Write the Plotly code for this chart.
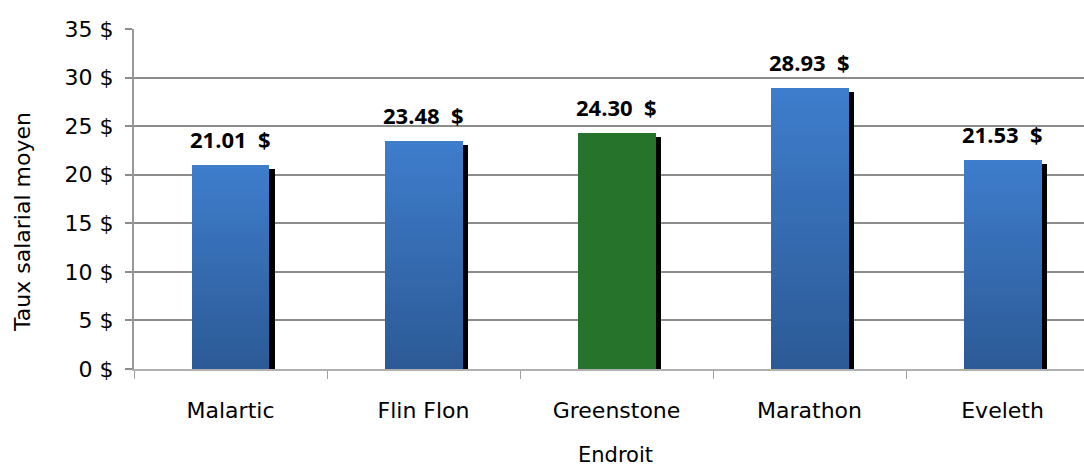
import plotly.graph_objects as go

categories = ["Malartic", "Flin Flon", "Greenstone", "Marathon", "Eveleth"]
values = [21.01, 23.48, 24.30, 28.93, 21.53]
labels = ["21.01\u00a0\u00a0$", "23.48\u00a0\u00a0$", "24.30\u00a0\u00a0$", "28.93\u00a0\u00a0$", "21.53\u00a0\u00a0$"]
highlight = "Greenstone"
y_ticks = [0, 5, 10, 15, 20, 25, 30, 35]
y_ticktext = ["0 $", "5 $", "10 $", "15 $", "20 $", "25 $", "30 $", "35 $"]

W, H = 1084, 466
ML, MT, MB = 134, 29, 97
BAR_W = 0.404
N_SEG = 40

top_rgb = (62, 125, 204)
bot_rgb = (44, 90, 150)
green = "rgb(38,116,44)"
FONT = "DejaVu Sans"

fig = go.Figure()

# shadow
fig.add_trace(go.Bar(
    x=categories, y=[v - 0.4 for v in values], width=BAR_W, offset=-BAR_W / 2 + 0.026,
    marker=dict(color="black", line=dict(width=0)), hoverinfo="skip", showlegend=False))

# gradient bars built from stacked segments
for k in range(N_SEG):
    t = (k + 0.5) / N_SEG
    r = round(bot_rgb[0] + (top_rgb[0] - bot_rgb[0]) * t)
    g = round(bot_rgb[1] + (top_rgb[1] - bot_rgb[1]) * t)
    b = round(bot_rgb[2] + (top_rgb[2] - bot_rgb[2]) * t)
    cols = [green if c == highlight else f"rgb({r},{g},{b})" for c in categories]
    fig.add_trace(go.Bar(
        x=categories, y=[v / N_SEG * 1.02 if k < N_SEG - 1 else v / N_SEG for v in values],
        base=[v * k / N_SEG for v in values], width=BAR_W, offset=-BAR_W / 2,
        marker=dict(color=cols, line=dict(width=0)), hoverinfo="skip", showlegend=False))

for c, v, lab in zip(categories, values, labels):
    fig.add_annotation(x=c, y=v, text=lab, showarrow=False, yanchor="bottom",
                       yshift=9, font=dict(family="Open Sans", size=22, color="black", weight="bold"))

fig.add_annotation(xref="paper", yref="paper", x=(22 - ML) / (W - ML), y=(H - MB - 222) / (H - MB - MT),
                   text="Taux salarial moyen", textangle=-90, showarrow=False,
                   xanchor="center", yanchor="middle",
                   font=dict(family=FONT, size=22, color="black"))
fig.add_annotation(xref="paper", yref="paper", x=(615 - ML) / (W - ML), y=-(H - (H - MB)) / (H - MB - MT),
                   text="Endroit", showarrow=False, xanchor="center", yanchor="bottom", yshift=-3,
                   font=dict(family=FONT, size=21, color="black"))

fig.update_layout(
    width=W, height=H, margin=dict(l=ML, r=0, t=MT, b=MB, pad=0),
    paper_bgcolor="white", plot_bgcolor="white", barmode="overlay", bargap=0,
    font=dict(family=FONT, size=21, color="black"),
    xaxis=dict(type="category", range=[-0.5, 4.422], tickson="boundaries", ticks="outside",
               ticklen=8, tickcolor="#a0a0a0", tickwidth=1, showline=True, linecolor="#b0b0b0",
               linewidth=2, showgrid=False, ticklabelstandoff=21, fixedrange=True,
               tickfont=dict(family=FONT, size=22, color="black")),
    yaxis=dict(range=[0, 35], tickvals=y_ticks, ticktext=y_ticktext, ticks="outside", ticklen=7,
               tickcolor="#8c8c8c", tickwidth=1.5, showline=True, linecolor="#999999", linewidth=2,
               showgrid=True, gridcolor="#8c8c8c", gridwidth=1.5, zeroline=False,
               ticklabelstandoff=7, fixedrange=True,
               tickfont=dict(family=FONT, size=22, color="black")),
)

fig.write_html("out.html")
